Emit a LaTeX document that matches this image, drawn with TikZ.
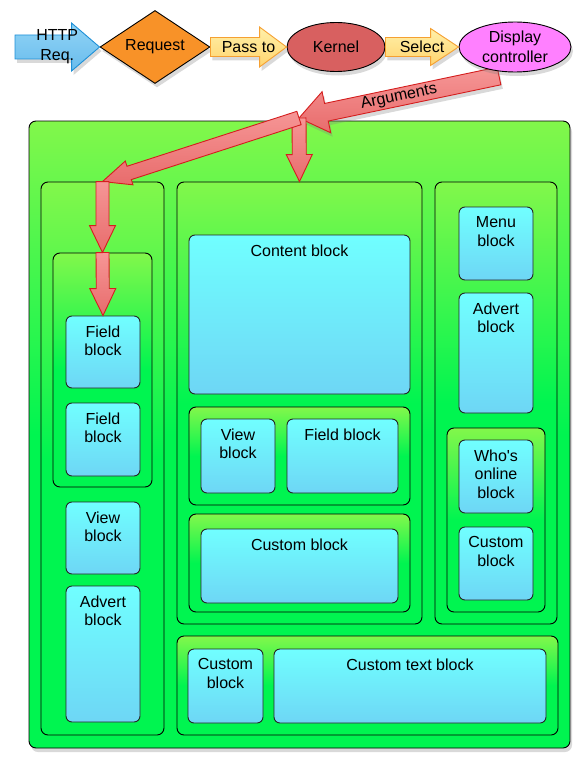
\documentclass[tikz,border=0pt]{standalone}
\usepackage{fontspec}
\setmainfont{Liberation Sans}
\usetikzlibrary{shapes.geometric,calc,fit,shadows}

\definecolor{limetop}{RGB}{130,247,75}
\definecolor{greenbot}{RGB}{0,245,80}
\definecolor{cyantop}{RGB}{112,255,255}
\definecolor{bluebot}{RGB}{110,214,245}
\definecolor{redtop}{RGB}{246,150,150}
\definecolor{redbot}{RGB}{232,108,108}
\definecolor{redline}{RGB}{212,30,30}
\definecolor{goldtop}{RGB}{255,240,170}
\definecolor{goldbot}{RGB}{255,212,110}
\definecolor{goldline}{RGB}{245,160,50}
\definecolor{skytop}{RGB}{145,212,246}
\definecolor{skybot}{RGB}{105,188,236}
\definecolor{skyline}{RGB}{30,144,215}
\definecolor{requestorange}{RGB}{248,146,40}
\definecolor{kernelred}{RGB}{216,96,96}
\definecolor{displaypink}{RGB}{255,128,255}

\newcommand{\blockfont}{\fontsize{16}{18.5}\selectfont}
\newcommand{\flowfont}{\fontsize{16}{20}\selectfont}

% fat arrow: [style]{from}{to}{half shaft}{half head}{head length}
\newcommand{\fatarrow}[6][]{%
  \coordinate (fa-h) at ($(#3)!#6!(#2)$);
  \draw[#1] ($(#2)!#4!90:(#3)$) -- ($(fa-h)!#4!90:(#3)$) -- ($(fa-h)!#5!90:(#3)$) -- (#3)
    -- ($(fa-h)!#5!-90:(#3)$) -- ($(fa-h)!#4!-90:(#3)$) -- ($(#2)!#4!-90:(#3)$) -- cycle;
}

\begin{document}
\begin{tikzpicture}[x=1pt,y=-1pt,
    container/.style={draw=black, line width=0.9pt, rounded corners=7pt, inner sep=0pt,
      top color=limetop, bottom color=greenbot, middle color=greenbot},
    block/.style={draw=black!85, line width=0.9pt, rounded corners=6pt, inner sep=0pt,
      top color=cyantop, bottom color=bluebot},
    blocktext/.style={anchor=north, align=center, inner sep=0pt, yshift=-10pt, font=\blockfont},
    flowtext/.style={align=center, inner sep=0pt, font=\flowfont},
    softshadow/.style={drop shadow={opacity=0.3, shadow xshift=2pt, shadow yshift=-4pt}},
    redarrow/.style={draw=redline, line width=0.9pt, top color=redtop, bottom color=redbot},
    goldarrow/.style={draw=goldline, line width=0.9pt, top color=goldtop, bottom color=goldbot},
    skyarrow/.style={draw=skyline, line width=0.9pt, top color=skytop, bottom color=skybot},
    flownode/.style={draw=black, line width=0.9pt, inner sep=0pt, align=center, font=\flowfont, softshadow},
  ]
  \useasboundingbox (0,0) rectangle (584,768);

  % page frame
  \node[container, softshadow, fit={(29,121) (570,748)}] (page) {};

  % left column
  \node[container, fit={(41,182) (164,735)}] (leftcol) {};
  \node[container, fit={(53,253) (152,487)}] (leftgrp) {};
  \node[block, fit={(66,316) (140,388)}] (fieldA) {};
  \node[blocktext] (fieldAtxt) at (fieldA.north) {Field\\block};
  \node[block, fit={(66,403) (140,476)}] (fieldB) {};
  \node[blocktext] (fieldBtxt) at (fieldB.north) {Field\\block};
  \node[block, fit={(66,502) (140,574)}] (viewA) {};
  \node[blocktext] (viewAtxt) at (viewA.north) {View\\block};
  \node[block, fit={(66,586) (140,722)}] (advertA) {};
  \node[blocktext] (advertAtxt) at (advertA.north) {Advert\\block};

  % middle column
  \node[container, fit={(177,182) (422,624)}] (midcol) {};
  \node[block, fit={(189,235) (410,394)}] (content) {};
  \node[blocktext] (contenttxt) at (content.north) {Content block};
  \node[container, fit={(189,407) (410,505)}] (midgrpA) {};
  \node[block, fit={(201,419) (275,493)}] (viewB) {};
  \node[blocktext] (viewBtxt) at (viewB.north) {View\\block};
  \node[block, fit={(287,419) (398,493)}] (fieldC) {};
  \node[blocktext] (fieldCtxt) at (fieldC.north) {Field block};
  \node[container, fit={(189,514) (410,612)}] (midgrpB) {};
  \node[block, fit={(201,529) (398,603)}] (customA) {};
  \node[blocktext] (customAtxt) at (customA.north) {Custom block};

  % right column
  \node[container, fit={(435,182) (557,624)}] (rightcol) {};
  \node[block, fit={(459,207) (533,280)}] (menu) {};
  \node[blocktext] (menutxt) at (menu.north) {Menu\\block};
  \node[block, fit={(459,293) (533,413)}] (advertB) {};
  \node[blocktext] (advertBtxt) at (advertB.north) {Advert\\block};
  \node[container, fit={(447,428) (545,612)}] (rightgrp) {};
  \node[block, fit={(459,440) (533,513)}] (whos) {};
  \node[blocktext] (whostxt) at (whos.north) {Who\textquotesingle s\\online\\block};
  \node[block, fit={(459,527) (533,600)}] (customB) {};
  \node[blocktext] (customBtxt) at (customB.north) {Custom\\block};

  % bottom row
  \node[container, fit={(177,636) (558,735)}] (bottomrow) {};
  \node[block, fit={(188,649) (263,723)}] (customC) {};
  \node[blocktext] (customCtxt) at (customC.north) {Custom\\block};
  \node[block, fit={(274,649) (546,723)}] (customtext) {};
  \node[blocktext] (customtexttxt) at (customtext.north) {Custom text block};

  % arguments
  \coordinate (argstart) at (499,76);
  \coordinate (hub) at (299,118);
  \fatarrow[redarrow, softshadow]{argstart}{hub}{9pt}{21pt}{28pt}
  \path (hub) -- (argstart) node[midway, sloped, flowtext] (argtxt) {Arguments};

  % request flow
  \node[flownode, diamond, aspect=1.5, fill=requestorange, minimum width=110, minimum height=73] (req) at (155,47) {Request};
  \node[flownode, ellipse, fill=kernelred, minimum width=98, minimum height=49] (kernel) at (336,47) {Kernel};
  \node[flownode, ellipse, fill=displaypink, minimum width=112, minimum height=50] (dc) at (515,47) {Display\\controller};

  \coordinate (httpstart) at (15,47);
  \fatarrow[skyarrow, softshadow]{httpstart}{req.west}{12pt}{24pt}{28pt}
  \node[flowtext] (httptxt) at ($(httpstart)!0.5!(req.west)$) {HTTP\\Req.};
  \fatarrow[goldarrow, softshadow]{req.east}{kernel.west}{9.5pt}{20pt}{27pt}
  \node[flowtext] (passtxt) at ($(req.east)!0.5!(kernel.west)$) {Pass to};
  \fatarrow[goldarrow, softshadow]{kernel.east}{dc.west}{9.5pt}{18.5pt}{28pt}
  \node[flowtext] (selecttxt) at ($(kernel.east)!0.5!(dc.west)$) {Select};

  % arguments into the blocks
  \fatarrow[redarrow]{hub}{midcol.north}{7pt}{13pt}{27pt}
  \fatarrow[redarrow]{hub}{leftcol.north}{7pt}{12.5pt}{28pt}
  \fatarrow[redarrow]{leftcol.north}{leftgrp.north}{6.5pt}{13pt}{27pt}
  \fatarrow[redarrow]{leftgrp.north}{fieldA.north}{6.5pt}{13pt}{27pt}
\end{tikzpicture}
\end{document}
